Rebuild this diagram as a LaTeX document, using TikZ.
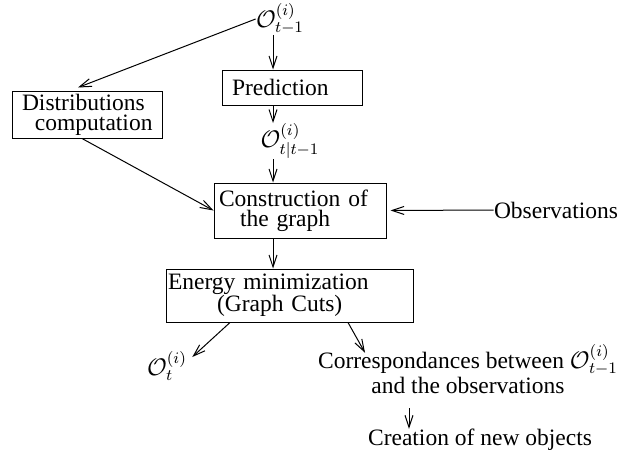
\documentclass[tikz,border=0pt]{standalone}
\usepackage{fontspec}
\setmainfont{Liberation Serif}
\usetikzlibrary{arrows.meta,positioning,calc}
\tikzset{
  box/.style={draw,line width=0.5pt,align=left,inner ysep=0pt,font=\fontsize{11.75}{10}\selectfont},
  lbl/.style={inner sep=0pt,align=center,font=\fontsize{11.75}{8.5}\selectfont},
  arr/.style={-{Straight Barb[length=6pt,width=4pt]},line width=0.5pt},
}

\begin{document}
\begin{tikzpicture}[x=0.5pt,y=-0.5pt]
  \useasboundingbox (0,0) rectangle (624,455);
  \coordinate (ax) at (273,0);
  \coordinate (dr) at (409,0);
  \node[lbl] (o) at (280,19) {$\mathcal{O}^{(i)}_{t-1}$};
  \node[box,text width=60pt,inner xsep=5pt,minimum height=17.5pt] (p) at (292,87.5) {Prediction};
  \node[box,text width=69pt,inner xsep=3pt,minimum height=23.5pt] (d) at (87,114.5) {\hspace*{2pt}Distributions\\\hspace*{8.5pt}computation};
  \node[lbl] (op) at (290,141) {$\mathcal{O}^{(i)}_{t|t-1}$};
  \node[box,text width=81pt,inner xsep=2.5pt,minimum height=27.5pt] (c) at (300,210.5) {Construction of\\\hspace*{10.5pt}the graph};
  \node[lbl] (ob) at (556,210) {Observations};
  \node[box,text width=121.5pt,inner xsep=1pt,minimum height=26.5pt,font=\fontsize{11.75}{11}\selectfont] (e) at (289.5,295.5) {Energy minimization\\\hspace*{24.5pt}(Graph Cuts)};
  \node[lbl] (ot) at (167,366) {$\mathcal{O}^{(i)}_t$};
  \node[lbl] (co) at (468,369) {Correspondances between $\mathcal{O}^{(i)}_{t-1}$\\and the observations};
  \node[lbl] (cr) at (480,440) {Creation of new objects};
  \foreach \p/\q in {o/p,p/op,op/c,c/e}{\draw[arr] (\p.south -| ax) -- (\q.north -| ax);}
  \draw[arr] (o.west) -- ([xshift=-4.5pt,yshift=1.5pt]d.north);
  \draw[arr] ([xshift=-2.5pt]d.south) -- (c.west);
  \draw[arr] (ob.west) -- ([xshift=2pt]c.east);
  \draw[arr] ([xshift=-29.75pt]e.south) -- ([shift={(2.5pt,4.5pt)}]ot.east);
  \draw[arr] ([xshift=29.25pt]e.south) -- ([shift={(-51.5pt,-4.5pt)}]co.north);
  \draw[arr] ([yshift=-7pt]co.south -| dr) -- (cr.north -| dr);
\end{tikzpicture}
\end{document}
